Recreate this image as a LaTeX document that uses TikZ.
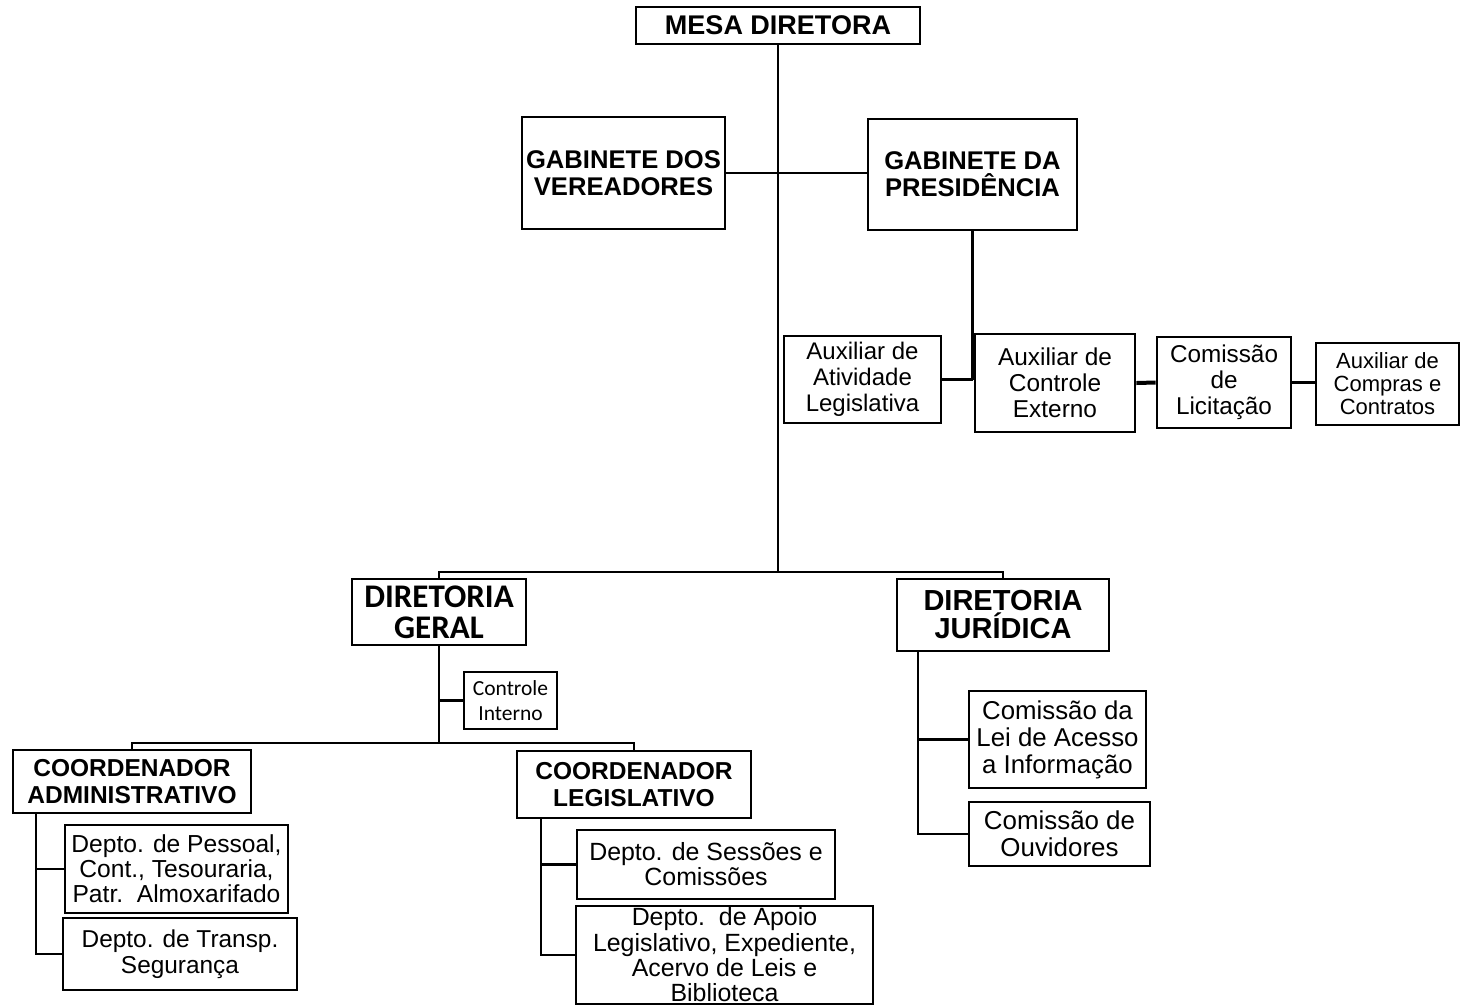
\documentclass[tikz,border=0pt]{standalone}
\usepackage{fontspec}
\setmainfont{Liberation Sans}
\newfontfamily\calfont{Carlito}
\begin{document}
\begin{tikzpicture}[x=1pt,y=-1pt,
  orgbox/.style={draw, line width=2.8pt, inner sep=0pt, align=center},
  conn/.style={line width=2.8pt}]
\useasboundingbox (0,0) rectangle (1461,1005);
% top level
\node[orgbox, minimum width=284, minimum height=37, font=\bfseries\fontsize{27}{30}\selectfont] (mesa) at (778,25.5) {MESA DIRETORA};
\node[orgbox, minimum width=203, minimum height=112, font=\bfseries\fontsize{25.6}{27}\selectfont] (gv) at (623.5,173) {GABINETE DOS\\VEREADORES};
\node[orgbox, minimum width=209, minimum height=111, font=\bfseries\fontsize{25.6}{27}\selectfont] (gp) at (972.5,174.5) {GABINETE DA\\PRESIDÊNCIA};
% auxiliaries
\node[orgbox, minimum width=157, minimum height=87, font=\fontsize{24}{26}\selectfont] (aal) at (862.5,379.5) {Auxiliar de\\Atividade\\Legislativa};
\node[orgbox, minimum width=160, minimum height=98, font=\fontsize{24.4}{26}\selectfont] (ace) at (1055,383) {Auxiliar de\\Controle\\Externo};
\node[orgbox, minimum width=134, minimum height=91, font=\fontsize{24.3}{26}\selectfont] (cl) at (1224,382.5) {Comissão\\de\\Licitação};
\node[orgbox, minimum width=143, minimum height=82, font=\fontsize{22}{23}\selectfont] (acc) at (1387.5,384) {Auxiliar de\\Compras e\\Contratos};
% directorates
\node[orgbox, minimum width=174, minimum height=66, font=\calfont\bfseries\fontsize{33}{31}\selectfont] (dg) at (439,612) {DIRETORIA\\GERAL};
\node[orgbox, minimum width=212, minimum height=72, font=\bfseries\fontsize{29}{28}\selectfont] (dj) at (1003,615) {DIRETORIA\\JURÍDICA};
\node[orgbox, minimum width=93, minimum height=57, font=\calfont\fontsize{21.5}{25}\selectfont] (ci) at (510.5,700.5) {Controle\\Interno};
% coordinators
\node[orgbox, minimum width=238, minimum height=63, font=\bfseries\fontsize{24.5}{27}\selectfont] (ca) at (132,781.5) {COORDENADOR\\ADMINISTRATIVO};
\node[orgbox, minimum width=234, minimum height=67, font=\bfseries\fontsize{24.5}{27}\selectfont] (clg) at (634,784.5) {COORDENADOR\\LEGISLATIVO};
% departments
\node[orgbox, minimum width=223, minimum height=88, font=\fontsize{24.6}{25}\selectfont] (dp) at (176.5,869) {Depto. de Pessoal,\\Cont., Tesouraria,\\Patr.\ \ Almoxarifado};
\node[orgbox, minimum width=234, minimum height=72, font=\fontsize{24.4}{26}\selectfont] (dt) at (180,954) {Depto. de Transp.\\Segurança};
\node[orgbox, minimum width=258, minimum height=69, font=\fontsize{24.9}{25}\selectfont] (ds) at (706,864.5) {Depto. de Sessões e\\Comissões};
\node[orgbox, minimum width=297, minimum height=98, font=\fontsize{24.9}{25.3}\selectfont] (da) at (724.5,955) {Depto.\ \ de Apoio\\Legislativo, Expediente,\\Acervo de Leis e\\Biblioteca};
\node[orgbox, minimum width=177, minimum height=97, font=\fontsize{25.8}{27}\selectfont] (cla) at (1057.5,739.5) {Comissão da\\Lei de Acesso\\a Informação};
\node[orgbox, minimum width=181, minimum height=64, font=\fontsize{25.9}{27}\selectfont] (co) at (1059.5,834) {Comissão de\\Ouvidores};
% junction coordinates
\coordinate (hub) at (778,572);
\coordinate (kg) at (439,743);
\coordinate (ca1) at (36,813);
\coordinate (cl1) at (541,818);
\coordinate (dj1) at (918,651);
% connectors
\draw[conn] (mesa.south) -- (hub);
\draw[conn] (gv.east) -- (gv.east -| gp.west);
\draw[conn] (gp.south) -- (gp.south |- aal.east);
\draw[conn] (aal.east) -- (gp.south |- aal.east);
\draw[line width=4pt] (ace.east) -- (cl.west);
\draw[conn] (cl.east) -- (cl.east -| acc.west);
\draw[conn] (dg.north) -- (dg.north |- hub) -- (dj.north |- hub) -- (dj.north);
\draw[conn] (dg.south) -- (kg);
\draw[conn] (ci.west) -- (ci.west -| kg);
\draw[conn] (ca.north) -- (ca.north |- kg) -- (clg.north |- kg) -- (clg.north);
\draw[conn] (ca1) -- (ca1 |- dt.west) -- (dt.west);
\draw[conn] (ca1 |- dp.west) -- (dp.west);
\draw[conn] (cl1) -- (cl1 |- da.west) -- (da.west);
\draw[conn] (cl1 |- ds.west) -- (ds.west);
\draw[conn] (dj1) -- (dj1 |- co.west) -- (co.west);
\draw[conn] (dj1 |- cla.west) -- (cla.west);
\end{tikzpicture}
\end{document}
